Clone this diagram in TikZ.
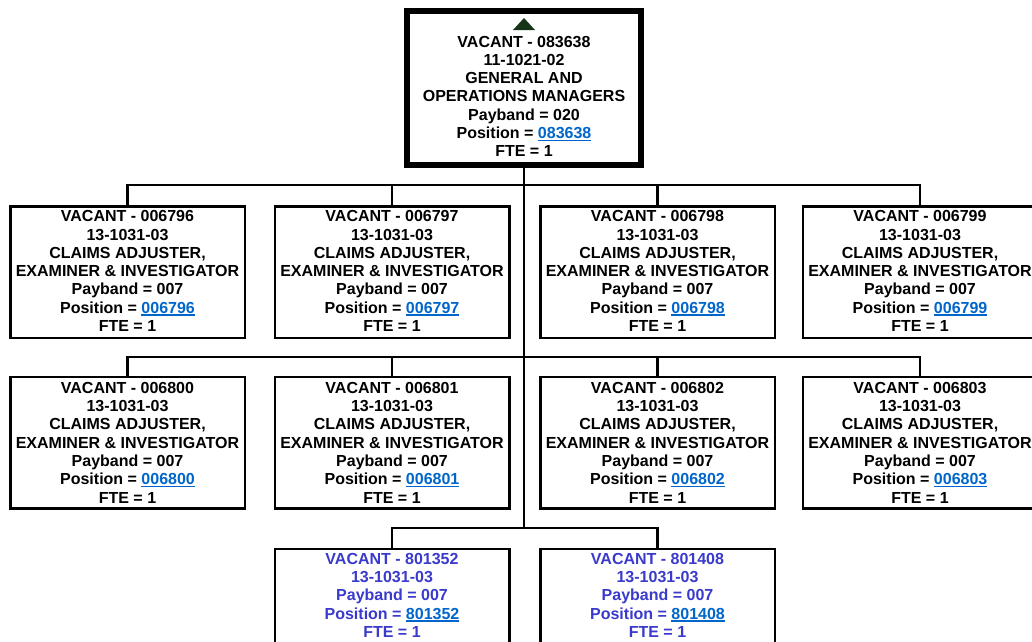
\documentclass[tikz,border=0pt]{standalone}
\usepackage{fontspec}
\setmainfont{Liberation Sans}

\definecolor{linkblue}{RGB}{0,102,204}
\definecolor{newposblue}{RGB}{58,58,204}
\definecolor{markgreen}{RGB}{22,52,22}

% underlined position number, as a hyperlink would show
\newcommand\poslink[1]{{\color{linkblue}\setbox0\hbox{#1}\rlap{\rule[-2.4pt]{\wd0}{1.4pt}}\box0}}
% block of centred bold lines; its baseline is that of the first line
\newcommand\cardtext[1]{\parbox[t]{270pt}{\centering\fontsize{16}{18.3}\selectfont\bfseries #1}}

\newcommand\claimstext[1]{\cardtext{VACANT - #1\\13-1031-03\\CLAIMS ADJUSTER,\\EXAMINER \& INVESTIGATOR\\Payband = 007\\Position = \poslink{#1}\\FTE = 1}}
\newcommand\newpostext[1]{\cardtext{VACANT - #1\\13-1031-03\\Payband = 007\\Position = \poslink{#1}\\FTE = 1}}

\tikzset{
  card/.style={draw=black, fill=white, line width=2.5pt, minimum width=234.5pt,
    minimum height=131.5pt, inner sep=0pt, outer sep=0pt},
  topcard/.style={draw=black, fill=white, line width=6pt, minimum width=234pt,
    minimum height=154pt, inner sep=0pt, outer sep=0pt},
  cardtxt/.style={anchor=base, inner sep=0pt, outer sep=0pt},
  newtxt/.style={cardtxt, text=newposblue},
  link/.style={draw=black, line width=2.2pt},
}

\begin{document}
\begin{tikzpicture}[x=1pt, y=-1pt]
\useasboundingbox (0,0) rectangle (1032,641);

% head position
\node[topcard] (top) at (524,88) {};
\fill[markgreen] (513,30) -- (535,30) -- (524,18) -- cycle;
\node[cardtxt] (toptxt) at (524,47) {\cardtext{VACANT - 083638\\11-1021-02\\GENERAL AND\\OPERATIONS MANAGERS\\Payband = 020\\Position = \poslink{083638}\\FTE = 1}};

% junctions on the trunk
\coordinate (j1) at (524,185);
\coordinate (j2) at (524,357);
\coordinate (j3) at (524,528);

% first row
\node[card] (c1) at (127.5,272) {};
\node[card] (c2) at (392,272) {};
\node[card] (c3) at (657.5,272) {};
\node[card] (c4) at (920,272) {};
% second row
\node[card] (c5) at (127.5,442.75) {};
\node[card] (c6) at (392,442.75) {};
\node[card] (c7) at (657.5,442.75) {};
\node[card] (c8) at (920,442.75) {};
% third row
\node[card] (c9) at (392,614.5) {};
\node[card] (c10) at (657.5,614.5) {};

% connectors
\draw[link] (top.south) -- (j3);
\foreach \c in {c1,c2,c3,c4} \draw[link] (j1) -| (\c.north);
\foreach \c in {c5,c6,c7,c8} \draw[link] (j2) -| (\c.north);
\foreach \c in {c9,c10} \draw[link] (j3) -| (\c.north);

% card texts
\node[cardtxt] (t1) at (127.5,221.7) {\claimstext{006796}};
\node[cardtxt] (t2) at (392,221.7) {\claimstext{006797}};
\node[cardtxt] (t3) at (657.5,221.7) {\claimstext{006798}};
\node[cardtxt] (t4) at (920,221.7) {\claimstext{006799}};
\node[cardtxt] (t5) at (127.5,393.2) {\claimstext{006800}};
\node[cardtxt] (t6) at (392,393.2) {\claimstext{006801}};
\node[cardtxt] (t7) at (657.5,393.2) {\claimstext{006802}};
\node[cardtxt] (t8) at (920,393.2) {\claimstext{006803}};
\node[newtxt] (t9) at (392,564.2) {\newpostext{801352}};
\node[newtxt] (t10) at (657.5,564.2) {\newpostext{801408}};
\end{tikzpicture}
\end{document}
